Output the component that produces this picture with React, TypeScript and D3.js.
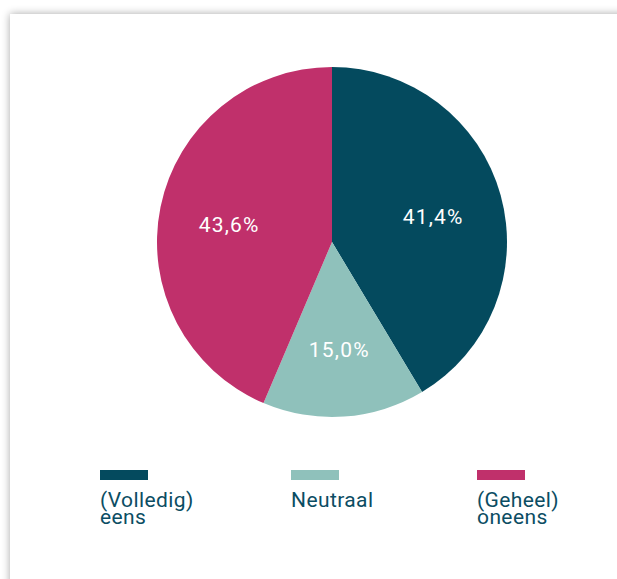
import React from "react";
import * as d3 from "d3";

const categories = ["(Volledig) eens", "Neutraal", "(Geheel) oneens"];
const values = [41.4, 15.0, 43.6];
const valueLabels = ["41,4%", "15,0%", "43,6%"];
const legendLines = [["(Volledig)", "eens"], ["Neutraal"], ["(Geheel)", "oneens"]];
const colors = ["#044a5e", "#8fc1bb", "#c0306b"];

const W = 617;
const H = 579;

export default function App() {
  const cx = 332;
  const cy = 242;
  const r = 175;
  const pie = d3.pie<number>().sort(null).value((d) => d);
  const arcs = pie(values);
  const arc = d3.arc<d3.PieArcDatum<number>>().innerRadius(0).outerRadius(r);
  const labelArc = d3.arc<d3.PieArcDatum<number>>().innerRadius(r * 0.6).outerRadius(r * 0.6);
  const legendX = d3.scaleOrdinal<number, number>().domain([0, 1, 2]).range([100, 291, 477]);
  const font = "Roboto, 'DejaVu Sans', sans-serif";

  return (
    <svg width={W} height={H} style={{ position: "absolute", left: 0, top: 0, display: "block" }}>
      <defs>
        <filter id="sh" x="-10%" y="-10%" width="120%" height="120%">
          <feGaussianBlur in="SourceAlpha" stdDeviation="4" />
          <feComponentTransfer>
            <feFuncA type="linear" slope="0.35" />
          </feComponentTransfer>
          <feMerge>
            <feMergeNode />
            <feMergeNode in="SourceGraphic" />
          </feMerge>
        </filter>
      </defs>
      <rect x={0} y={0} width={W} height={H} fill="#ffffff" />
      <rect x={10} y={14} width={W + 20} height={H + 20} fill="#ffffff" filter="url(#sh)" />
      <g transform={`translate(${cx},${cy})`}>
        {arcs.map((a, i) => (
          <path key={i} d={arc(a) ?? ""} fill={colors[i]} />
        ))}
        {arcs.map((a, i) => {
          const [x, y] = labelArc.centroid(a);
          return (
            <text
              key={i}
              x={x}
              y={y}
              dy="0.5em"
              textAnchor="middle"
              fill="#ffffff"
              fontFamily={font}
              fontSize={21}
              letterSpacing={1.2}
            >
              {valueLabels[i]}
            </text>
          );
        })}
      </g>
      {categories.map((c, i) => (
        <g key={c} transform={`translate(${legendX(i)},0)`}>
          <rect x={0} y={470} width={48} height={10} fill={colors[i]} />
          <text fill="#0b4d63" fontFamily={font} fontSize={21} letterSpacing={0.4}>
            {legendLines[i].map((ln, j) => (
              <tspan key={j} x={0} y={507 + j * 17}>
                {ln}
              </tspan>
            ))}
          </text>
        </g>
      ))}
    </svg>
  );
}
